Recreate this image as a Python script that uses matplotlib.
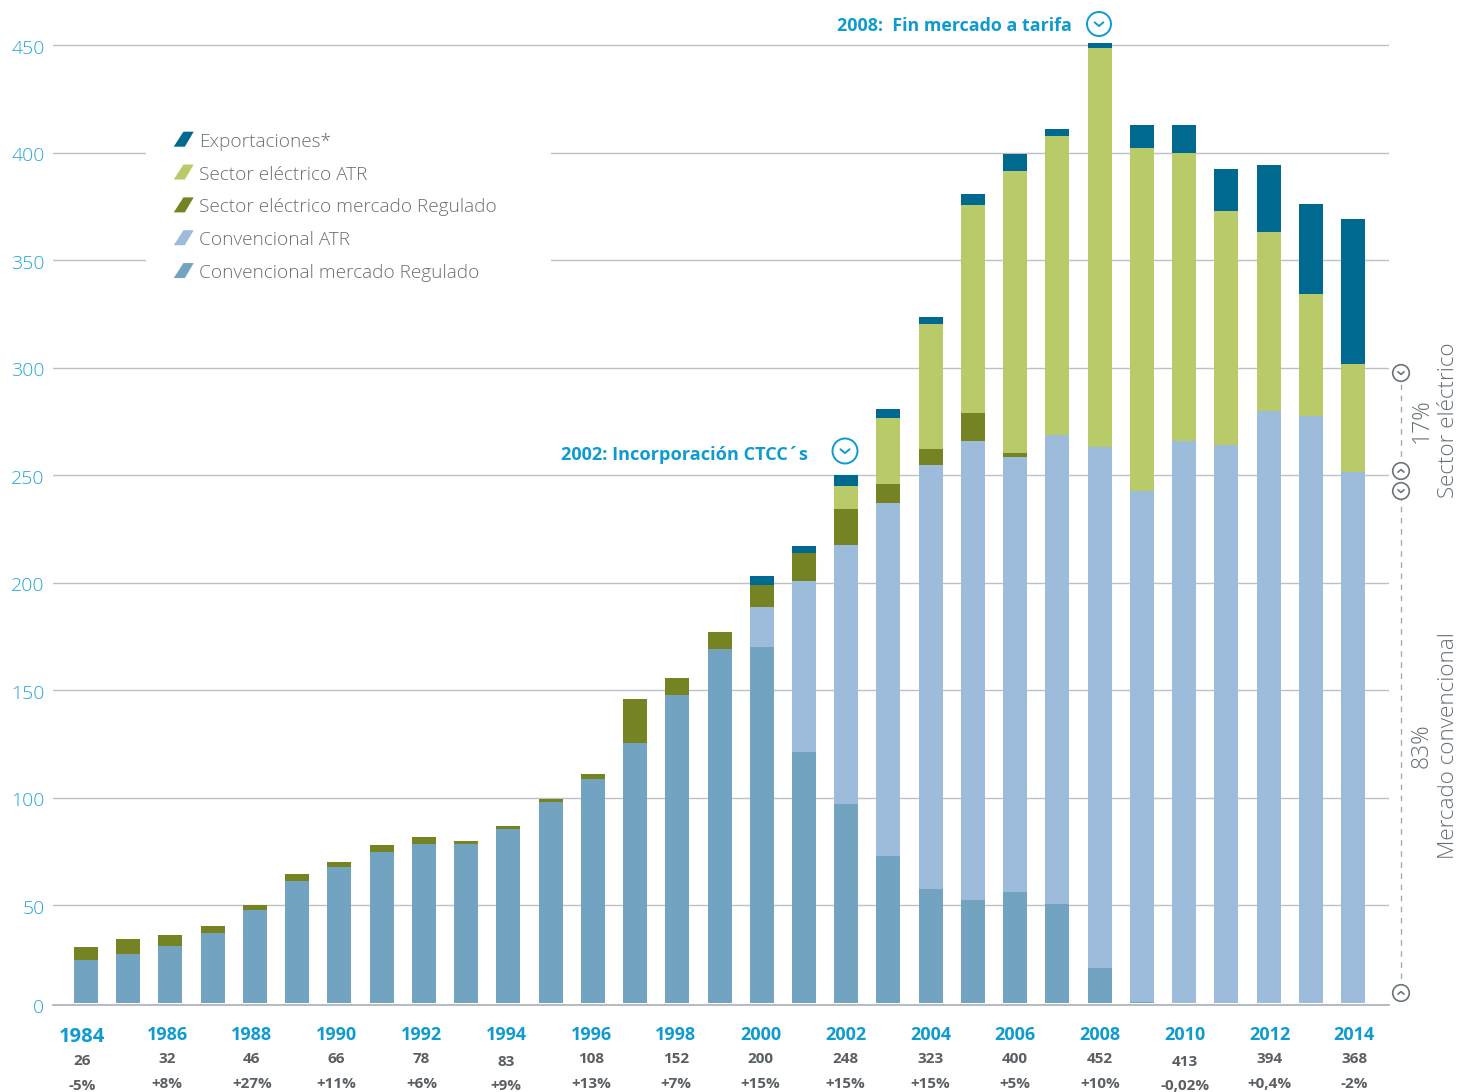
import matplotlib
matplotlib.use("Agg")
import matplotlib.pyplot as plt
import numpy as np
from matplotlib.patches import Polygon, Circle, Rectangle
from matplotlib.legend_handler import HandlerPatch
from matplotlib.transforms import ScaledTranslation

plt.rcParams['font.family'] = ['Open Sans', 'Noto Sans', 'DejaVu Sans']

years = list(range(1984, 2015))
conv_regulado = [24.4, 27.2, 30.9, 37.0, 47.7, 61.2, 67.7, 74.7, 78.4, 78.4, 85.3, 97.9, 108.6, 125.3, 147.7, 169.1,
                 170.0, 121.2, 97.0, 72.8, 57.4, 52.3, 56.0, 50.5, 20.7, 4.9, 0, 0, 0, 0, 0]
conv_atr = [0]*16 + [18.6, 79.5, 120.5, 164.2, 197.2, 213.5, 202.3, 218.1, 242.3, 237.7, 265.8, 264.0, 279.8, 277.4, 251.4]
sect_regulado = [6.0, 7.0, 5.1, 3.3, 2.3, 3.3, 2.3, 3.3, 3.3, 1.4, 1.4, 1.4, 2.3, 20.5, 7.9, 7.9,
                 10.2, 13.0, 16.7, 8.8, 7.4, 13.0, 1.9, 0, 0, 0, 0, 0, 0, 0, 0]
sect_atr = [0]*18 + [10.7, 30.7, 58.1, 96.7, 131.2, 139.1, 185.6, 159.5, 134.0, 108.8, 83.3, 56.7, 50.2]
exportaciones = [0]*16 + [4.2, 3.3, 5.1, 4.2, 3.3, 5.1, 7.9, 3.3, 2.3, 10.7, 13.0, 19.5, 31.2, 41.9, 67.4]

series_names = ["Convencional mercado Regulado", "Convencional ATR", "Sector eléctrico mercado Regulado",
                "Sector eléctrico ATR", "Exportaciones*"]
series_colors = ["#72A4C2", "#9DBBDB", "#758323", "#B9CA68", "#00698F"]

label_years = ["1984", "1986", "1988", "1990", "1992", "1994", "1996", "1998", "2000", "2002", "2004", "2006",
               "2008", "2010", "2012", "2014"]
label_totals = ["26", "32", "46", "66", "78", "83", "108", "152", "200", "248", "323", "400", "452", "413", "394", "368"]
label_growth = ["-5%", "+8%", "+27%", "+11%", "+6%", "+9%", "+13%", "+7%", "+15%", "+15%", "+15%", "+5%", "+10%",
                "-0,02%", "+0,4%", "-2%"]
ytick_values = [50, 100, 150, 200, 250, 300, 350, 400, 450]

W, H = 1458, 1092
TICKC = "#22A5DA"
fig = plt.figure(figsize=(W/100, H/100), dpi=100, facecolor="white")
ax = fig.add_axes([53/W, (H-1003)/H, (1389-53)/W, (1003-40)/H])
ax.set_xlim(1983.22, 2014.85)
ax.set_ylim(4.42, 452.33)
for s in ax.spines.values():
    s.set_visible(False)
ax.set_xticks([])
ax.set_yticks(ytick_values)
ax.tick_params(axis='y', length=0, pad=6, labelsize=14, labelcolor=TICKC)
shift = ScaledTranslation(0, -1.5/100, fig.dpi_scale_trans)
for t in ax.get_yticklabels():
    t.set_fontweight('light')
    t.set_transform(t.get_transform() + shift)
ax.grid(axis='y', color="#BCC1C6", lw=1.0)
ax.set_axisbelow(True)

GRIDC = "#A9AFB4"
ax.axhline(3.35, color=GRIDC, lw=1.2, clip_on=False, zorder=1)

bottom = np.zeros(len(years))
all_series = [conv_regulado, conv_atr, sect_regulado, sect_atr, exportaciones]
handles = []
for vals, name, col in zip(all_series, series_names, series_colors):
    b = ax.bar(years, vals, bottom=bottom, width=24/42.23, color=col, label=name, linewidth=0, zorder=3)
    handles.append(b)
    bottom = bottom + np.array(vals)

# overlay in pixel coordinates for annotations
ov = fig.add_axes([0, 0, 1, 1], facecolor="none")
ov.set_xlim(0, W)
ov.set_ylim(H, 0)
ov.axis("off")

# legend gap in gridlines
ov.add_patch(Rectangle((146, 120), 405, 165, facecolor="white", edgecolor="none", zorder=1))

class HandlerPara(HandlerPatch):
    def create_artists(self, legend, orig, xd, yd, width, height, fontsize, trans):
        pts = [(0, 0), (8, 0), (14.4, 10.8), (7, 10.8)]
        p = Polygon(pts, closed=True, facecolor=orig.patches[0].get_facecolor(), edgecolor="none", transform=trans)
        return [p]

order = handles[::-1]
names = series_names[::-1]
leg = ov.legend(order, names, handler_map={type(handles[0]): HandlerPara()},
                loc="upper left", bbox_to_anchor=(168/W, 1-127/H), bbox_transform=fig.transFigure,
                frameon=False, fontsize=13.7, labelspacing=0.78, handlelength=1.05, handletextpad=0.26,
                borderpad=0.3, borderaxespad=0, handleheight=0.8)
for t in leg.get_texts():
    t.set_color("#687076")
    t.set_fontweight('light')

# zero label
ov.text(38, 1008, "0", ha="center", va="center", fontsize=14, color=TICKC, fontweight='light')

# bottom labels
YEARC = "#0F9BD0"
GREY = "#5A5F63"
for i, (y, tot, g) in enumerate(zip(label_years, label_totals, label_growth)):
    x = 82.3 + 84.8*i
    yy, ty, gy = 1035, 1059, 1084
    fs = 13
    if i == 0:
        yy, ty, gy = 1037, 1061, 1086
        fs = 14.5
    if y in ("1994", "2010"):
        ty, gy = 1062, 1086
    ov.text(x, yy, y, ha="center", va="center", fontsize=fs, color=YEARC, fontweight='bold')
    ov.text(x, ty, tot, ha="center", va="center", fontsize=11, color=GREY, fontweight='bold')
    ov.text(x, gy, g, ha="center", va="center", fontsize=11, color=GREY, fontweight='bold')

def badge(x, y, r, col, up=False, lw=1.4):
    ov.add_patch(Circle((x, y), r, facecolor="white", edgecolor=col, lw=lw, zorder=5))
    d = r*0.28
    s = -1 if up else 1
    ov.plot([x-d*1.3, x, x+d*1.3], [y-s*d*0.5, y+s*d*0.6, y-s*d*0.5], color=col, lw=lw, zorder=6,
            solid_capstyle="round", solid_joinstyle="round")

# right bracket
GC = "#6B7479"
ov.plot([1401, 1401], [373, 992], color="#A5ABB0", lw=1.0, ls=(0, (4, 4)), zorder=4)
badge(1401, 373, 8.3, GC, lw=1.2)
badge(1401, 471, 8.3, GC, up=True, lw=1.2)
badge(1401, 491, 8.3, GC, lw=1.2)
badge(1401, 993, 8.3, GC, up=True, lw=1.2)

SIDE = "#687076"
ov.text(1449, 420, "Sector eléctrico", rotation=90, ha="center", va="center", fontsize=16.2, color=SIDE, fontweight='light')
ov.text(1422, 421, "17%", rotation=90, ha="center", va="center", fontsize=16.5, color=SIDE, fontweight='light')
ov.text(1449, 746, "Mercado convencional", rotation=90, ha="center", va="center", fontsize=16.2, color=SIDE, fontweight='light')
ov.text(1422, 746, "83%", rotation=90, ha="center", va="center", fontsize=16.5, color=SIDE, fontweight='light')

# callouts
ov.text(561, 455, "2002: Incorporación CTCC´s", ha="left", va="center", fontsize=13.1, color=YEARC, fontweight='bold')
badge(845, 451, 12.5, YEARC)
ov.text(837, 26, "2008:  Fin mercado a tarifa", ha="left", va="center", fontsize=12.9, color=YEARC, fontweight='bold')
badge(1099, 24, 12, YEARC)

fig.savefig("out.png", dpi=100, facecolor="white")
